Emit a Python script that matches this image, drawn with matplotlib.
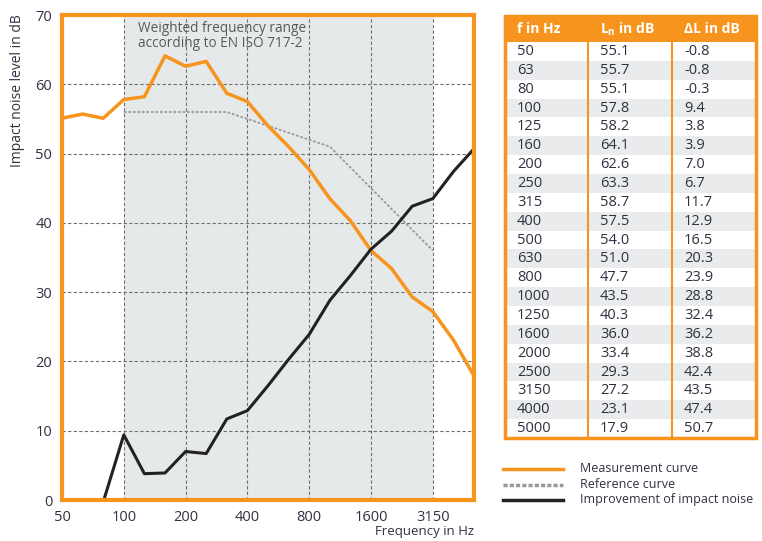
import matplotlib
matplotlib.use("Agg")
import matplotlib.pyplot as plt
from matplotlib.patches import Rectangle
from matplotlib.lines import Line2D

plt.rcParams["font.family"] = ["Open Sans", "DejaVu Sans"]

ORANGE = "#F7941D"
TXT = "#2E3140"
SHADE = "#E6E9EA"

# Terzband-Messwerte
freq = [50, 63, 80, 100, 125, 160, 200, 250, 315, 400, 500, 630, 800,
        1000, 1250, 1600, 2000, 2500, 3150, 4000, 5000]
ln_db = [55.1, 55.7, 55.1, 57.8, 58.2, 64.1, 62.6, 63.3, 58.7, 57.5, 54.0,
         51.0, 47.7, 43.5, 40.3, 36.0, 33.4, 29.3, 27.2, 23.1, 17.9]
delta_l = [-0.8, -0.8, -0.3, 9.4, 3.8, 3.9, 7.0, 6.7, 11.7, 12.9, 16.5,
           20.3, 23.9, 28.8, 32.4, 36.2, 38.8, 42.4, 43.5, 47.4, 50.7]
# Bezugskurve EN ISO 717-2 (verschoben), 100 - 3150 Hz
ref_freq = [100, 125, 160, 200, 250, 315, 400, 500, 630, 800, 1000, 1250,
            1600, 2000, 2500, 3150]
ref_db = [56, 56, 56, 56, 56, 56, 55, 54, 53, 52, 51, 48, 45, 42, 39, 36]
tick_freq = [50, 100, 200, 400, 800, 1600, 3150]
headers = ["f in Hz", r"L$_\mathregular{n}$ in dB", "ΔL in dB"]

W, H = 762, 541
fig = plt.figure(figsize=(W / 100, H / 100), dpi=100)

idx = {f: i for i, f in enumerate(freq)}
x_all = list(range(len(freq)))
x_ref = [idx[f] for f in ref_freq]

ax = fig.add_axes([62 / W, 1 - 500 / H, 412 / W, 485 / H])
ax.set_xlim(0, len(freq) - 1)
ax.set_ylim(0, 70)
ax.axvspan(idx[100], idx[3150], color=SHADE, zorder=0, lw=0)
for f in tick_freq[1:]:
    ax.axvline(idx[f], color="#707070", ls=(0, (3, 2)), lw=0.8, zorder=1)
for y in range(10, 70, 10):
    ax.axhline(y, color="#707070", ls=(0, (3, 2)), lw=0.8, zorder=1)

ax.plot(x_ref, ref_db, color="#9A9A9A", lw=1.3, ls=(0, (1.5, 1)), zorder=2)
ax.plot(x_all, ln_db, color=ORANGE, lw=2.5, zorder=3)
ax.plot(x_all, delta_l, color="#222222", lw=2.2, zorder=3)

for s in ax.spines.values():
    s.set_color(ORANGE)
    s.set_linewidth(3)
    s.set_zorder(5)
ax.set_xticks([idx[f] for f in tick_freq])
ax.set_xticklabels([str(f) for f in tick_freq])
ax.set_yticks(range(0, 71, 10))
ax.tick_params(length=0, labelsize=10.5, colors=TXT, pad=7)
ax.text(0.185, 0.988, "Weighted frequency range\naccording to EN ISO 717-2",
        transform=ax.transAxes, ha="left", va="top", fontsize=9.8,
        color="#595959", linespacing=1.05)
fig.text(474 / W, 1 - 532 / H, "Frequency in Hz", ha="right", va="center",
         fontsize=9.5, color=TXT)
fig.text(18 / W, 1 - 14 / H, "Impact noise level in dB", rotation=90,
         ha="center", va="top", fontsize=10, color=TXT)

# Tabelle und Legende in Pixelkoordinaten
ov = fig.add_axes([0, 0, 1, 1])
ov.set_xlim(0, W)
ov.set_ylim(H, 0)
ov.axis("off")

tl, tr, tt, hb, tb = 505, 756, 16, 42, 438
col_x = [tl, 588, 672, tr]
row_h = (tb - hb) / len(freq)
ov.add_patch(Rectangle((tl, tt), tr - tl, hb - tt, color=ORANGE, lw=0))
for c, h in enumerate(headers):
    ov.text(col_x[c] + 12, (tt + hb) / 2, h, ha="left", va="center",
            fontsize=10, color="white", fontweight="bold")
for r in range(len(freq)):
    y0 = hb + r * row_h
    if r % 2 == 1:
        ov.add_patch(Rectangle((tl, y0), tr - tl, row_h, color="#E9EBEC", lw=0))
    vals = [str(freq[r]), f"{ln_db[r]:.1f}", f"{delta_l[r]:.1f}"]
    for c, v in enumerate(vals):
        ov.text(col_x[c] + 12, y0 + row_h / 2, v, ha="left",
                va="center", fontsize=10.5, color=TXT)
for x in col_x[1:-1]:
    ov.plot([x, x], [tt, tb], color=ORANGE, lw=1.5)
ov.add_patch(Rectangle((tl, tt), tr - tl, tb - tt, fill=False, ec=ORANGE, lw=2.5))

leg = [("Measurement curve", dict(color=ORANGE, lw=2.5)),
       ("Reference curve", dict(color="#9A9A9A", lw=2.5, ls=(0, (1.2, 0.6)))),
       ("Improvement of impact noise", dict(color="#222222", lw=2.5))]
for i, (lab, st) in enumerate(leg):
    y = 469 + i * 15.5
    ov.add_line(Line2D([503, 563], [y, y], **st))
    ov.text(580, y, lab, ha="left", va="center", fontsize=9, color=TXT)

fig.savefig("out.png", dpi=100)
